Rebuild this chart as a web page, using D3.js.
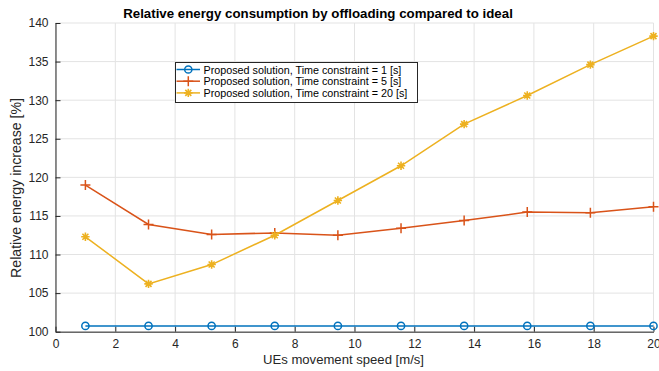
<!DOCTYPE html>
<html><head><meta charset="utf-8">
<script src="https://cdn.jsdelivr.net/npm/d3@7"></script>
<style>body{margin:0;background:#fff;} svg{display:block;font-family:"Liberation Sans",Arial,sans-serif;}</style>
</head><body>
<svg id="c" width="659" height="371"></svg>
<script>
const speeds = [1, 3.111, 5.222, 7.333, 9.444, 11.556, 13.667, 15.778, 17.889, 20];
const tc1 = [100.75, 100.75, 100.75, 100.75, 100.75, 100.75, 100.75, 100.75, 100.75, 100.75];
const tc5 = [119.0, 113.9, 112.6, 112.8, 112.5, 113.4, 114.4, 115.5, 115.4, 116.2];
const tc20 = [112.3, 106.2, 108.7, 112.5, 117.0, 121.5, 126.9, 130.6, 134.6, 138.3];
const seriesNames = ["Proposed solution, Time constraint = 1 [s]", "Proposed solution, Time constraint = 5 [s]", "Proposed solution, Time constraint = 20 [s]"];
const xTicks = [0,2,4,6,8,10,12,14,16,18,20];
const yTicks = [100,105,110,115,120,125,130,135,140];
const colors = ["#0072BD", "#D95319", "#EDB120"];
const markers = ["circle", "plus", "star"];

const svg = d3.select("#c");
const L = 55.5, R = 653.5, T = 23, B = 331.7;
const x = d3.scaleLinear().domain([0,20]).range([L,R]);
const y = d3.scaleLinear().domain([100,140]).range([B,T]);

function fit(sel, target) {
  const w = sel.node().getComputedTextLength();
  const fs = parseFloat(sel.attr("font-size"));
  if (w > 0) sel.attr("font-size", (fs * target / w).toFixed(2));
}

// grid
const g = svg.append("g");
g.selectAll("line.gx").data(xTicks).join("line")
  .attr("x1", d=>x(d)).attr("x2", d=>x(d)).attr("y1", T).attr("y2", B)
  .attr("stroke", "#e3e3e3").attr("stroke-width", 1);
g.selectAll("line.gy").data(yTicks).join("line")
  .attr("x1", L).attr("x2", R).attr("y1", d=>y(d)).attr("y2", d=>y(d))
  .attr("stroke", "#e3e3e3").attr("stroke-width", 1);

// axes
const xa = svg.append("g").attr("transform", `translate(0,${B})`)
  .call(d3.axisBottom(x).tickValues(xTicks).tickSize(-5).tickPadding(8).tickSizeOuter(0));
const ya = svg.append("g").attr("transform", `translate(${L},0)`)
  .call(d3.axisLeft(y).tickValues(yTicks).tickSize(-5).tickPadding(7).tickSizeOuter(0));
[xa, ya].forEach(a => {
  a.select(".domain").attr("stroke", "#262626");
  a.selectAll(".tick line").attr("stroke", "#262626");
  a.selectAll(".tick text").attr("fill", "#262626").attr("font-size", 12).attr("font-family", "Liberation Sans, Arial, sans-serif");
});

// series
const data = [tc1, tc5, tc20];
const line = d3.line().x((d,i)=>x(speeds[i])).y(d=>y(d));
function drawMarker(sel, type, color, cx, cy) {
  if (type === "circle") {
    sel.append("circle").attr("cx", cx).attr("cy", cy).attr("r", 3.6)
      .attr("fill", "none").attr("stroke", color).attr("stroke-width", 1.5);
  } else if (type === "plus") {
    sel.append("path").attr("d", `M${cx-5},${cy}H${cx+5}M${cx},${cy-5}V${cy+5}`)
      .attr("stroke", color).attr("stroke-width", 1.5);
  } else {
    const s = 4.2, d = 3;
    sel.append("path").attr("d", `M${cx-s},${cy}H${cx+s}M${cx},${cy-s}V${cy+s}M${cx-d},${cy-d}L${cx+d},${cy+d}M${cx-d},${cy+d}L${cx+d},${cy-d}`)
      .attr("stroke", color).attr("stroke-width", 1.6);
  }
}
data.forEach((vals, k) => {
  svg.append("path").datum(vals).attr("d", line).attr("fill", "none")
    .attr("stroke", colors[k]).attr("stroke-width", 1.5);
  const mg = svg.append("g");
  vals.forEach((v, i) => drawMarker(mg, markers[k], colors[k], x(speeds[i]), y(v)));
});

// title & labels
const title = svg.append("text").attr("x", 318).attr("y", 17.5).attr("text-anchor", "middle")
  .attr("font-weight", "bold").attr("font-size", 13).attr("fill", "#000")
  .text("Relative energy consumption by offloading compared to ideal");
fit(title, 390);
const xl = svg.append("text").attr("x", 343.5).attr("y", 364).attr("text-anchor", "middle")
  .attr("font-size", 13).attr("fill", "#262626").text("UEs movement speed [m/s]");
fit(xl, 161);
const yl = svg.append("text").attr("transform", `translate(21,188) rotate(-90)`).attr("text-anchor", "middle")
  .attr("font-size", 13).attr("fill", "#262626").text("Relative energy increase [%]");
fit(yl, 180);

// legend
const lg = svg.append("g");
lg.append("rect").attr("x", 175.5).attr("y", 62.5).attr("width", 242).attr("height", 40)
  .attr("fill", "#fff").attr("stroke", "#262626").attr("stroke-width", 1);
seriesNames.forEach((n, k) => {
  const cy = 69.5 + k * 11.7;
  lg.append("line").attr("x1", 176.5).attr("x2", 200).attr("y1", cy).attr("y2", cy)
    .attr("stroke", colors[k]).attr("stroke-width", 1.5);
  drawMarker(lg, markers[k], colors[k], 188.3, cy);
  const t = lg.append("text").attr("x", 203.5).attr("y", cy + 4).attr("font-size", 11)
    .attr("fill", "#000").text(n);
  fit(t, k === 2 ? 204 : (k === 1 ? 198 : 198));
});
</script>
</body></html>
